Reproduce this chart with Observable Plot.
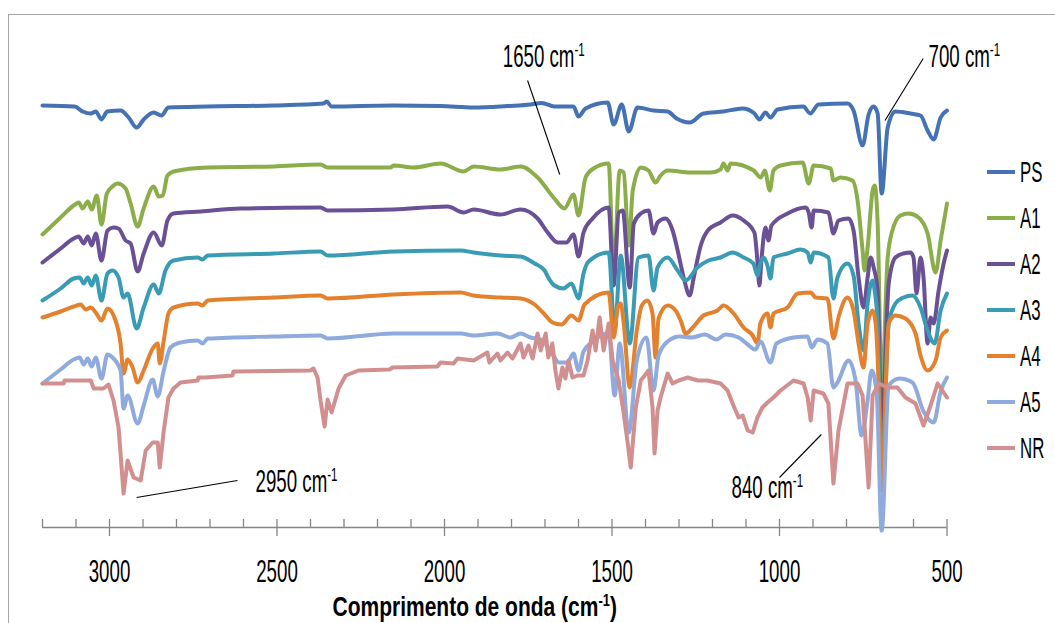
<!DOCTYPE html>
<html><head><meta charset="utf-8">
<script src="https://cdn.jsdelivr.net/npm/d3@7"></script>
<script src="https://cdn.jsdelivr.net/npm/@observablehq/plot@0.6"></script>
<style>
html,body{margin:0;padding:0;background:#fff;overflow:hidden;}
#wrap{position:relative;width:1055px;height:623px;font-family:"Liberation Sans",Arial,sans-serif;overflow:hidden;}
#frame{position:absolute;left:8px;top:14px;width:1200px;height:800px;border:1.5px solid #a6a6a6;box-sizing:border-box;}
#chart{position:absolute;left:0;top:0;}
.swatch{position:absolute;left:987px;width:28px;height:4px;}
.lbl{position:absolute;left:1020px;font-size:21px;line-height:20px;transform:scale(0.8,1.4);transform-origin:0 50%;color:#000;white-space:nowrap;}
</style></head>
<body><div id="wrap"><div id="frame"></div><div id="chart"></div><div id="legend"></div></div>
<script>
// Series names and colours
const seriesNames = ["PS","A1","A2","A3","A4","A5","NR"];
const seriesColors = ["#4472b4","#8bae4b","#6a5196","#3a9bb5","#e4812f","#8faadc","#d28f8f"];

// [wavenumber (cm-1), transmittance with offset (a.u.)]
const PS = [[3200,422],[3104,421],[3080,416],[3056,414],[3041,416],[3024,408],[3007,416],[2967,417],[2943,410],[2919,400],[2898,408],[2868,415],[2845,412],[2824,420],[2707,421],[2510,422],[2361,424],[2352,426],[2337,421],[2155,422],[2012,421.5],[1913,420],[1812,421.5],[1743,423],[1710,424.6],[1672,421],[1615,421],[1600,411],[1579,419],[1513,425],[1495,403],[1471,423],[1450,396],[1424,420],[1376,417],[1334,416],[1307,409],[1268,405],[1227,414],[1167,416],[1110,419],[1075,414],[1060,408],[1042,415],[1027,410],[1006,418],[929,421],[908,414],[884,423],[797,424],[779,417],[752,382],[734,413],[719,421],[707,414],[695,334],[677,400],[654,416],[609,414],[579,412],[558,397],[540,388],[519,410],[500,417]];
const A1 = [[3200,293],[3146,310],[3107,322],[3092,325],[3080,319],[3065,326],[3053,318],[3038,332],[3024,303],[3008,334],[2991,341],[2976,344],[2952,339],[2937,324],[2916,301],[2898,319],[2868,341],[2853,331],[2841,332],[2827,352],[2809,356],[2707,360],[2510,361],[2370,363],[2349,360],[2310,360],[2161,360],[2152,362],[2092,360],[2012,364],[1943,356],[1913,361],[1833,358],[1773,361],[1722,350],[1672,329],[1642,319],[1615,333],[1600,312],[1579,350],[1555,359],[1510,364],[1495,257],[1477,357],[1465,355],[1450,282],[1438,337],[1414,360],[1391,357],[1370,345],[1355,352],[1334,357],[1265,355],[1206,355],[1176,358],[1167,364],[1155,357],[1146,364],[1077,357],[1056,350],[1044,357],[1029,337],[1018,357],[997,362],[931,365],[913,344],[898,362],[847,359],[839,347],[818,350],[782,347],[767,327],[752,277],[746,257],[737,280],[722,337],[716,342],[707,304],[695,137],[677,270],[663,297],[639,312],[615,314],[585,310],[558,294],[534,255],[519,287],[500,324]];
const A2 = [[3200,265],[3146,279],[3107,289],[3092,291],[3077,284],[3065,291],[3053,282],[3041,294],[3024,267],[3006,297],[2988,300],[2973,299],[2952,287],[2937,284],[2916,256],[2898,274],[2868,295],[2844,282],[2827,307],[2809,314],[2728,316],[2609,319],[2370,320],[2349,317],[2152,318],[1991,321],[1943,315],[1913,318],[1833,313],[1773,318],[1722,309],[1692,295],[1662,285],[1636,285],[1615,293],[1600,271],[1585,295],[1558,309],[1510,320],[1495,242],[1480,315],[1468,317],[1447,240],[1435,304],[1414,314],[1391,317],[1376,294],[1364,305],[1340,309],[1319,297],[1304,277],[1286,250],[1268,232],[1256,250],[1235,282],[1214,297],[1176,305],[1140,312],[1107,307],[1075,295],[1066,267],[1060,242],[1054,267],[1042,300],[1033,287],[1024,302],[976,314],[922,320],[913,315],[904,300],[898,317],[854,315],[839,294],[824,307],[794,309],[779,297],[764,250],[749,220],[737,250],[728,270],[719,260],[707,237],[695,97],[674,244],[654,270],[630,274],[609,275],[600,270],[591,234],[579,270],[570,250],[558,184],[549,210],[540,204],[525,237],[510,264],[500,277]];
const A3 = [[3200,227],[3146,239],[3107,249],[3089,250],[3077,244],[3065,250],[3053,242],[3041,252],[3024,227],[3006,254],[2991,257],[2973,250],[2958,230],[2946,234],[2919,199],[2898,220],[2868,243],[2853,234],[2833,257],[2809,267],[2737,270],[2722,268],[2707,272],[2510,274],[2370,276],[2349,272],[2152,276],[1952,277],[1913,275],[1833,272],[1773,271],[1731,264],[1701,257],[1692,251],[1672,242],[1645,239],[1621,244],[1600,229],[1585,254],[1570,266],[1510,275],[1492,197],[1474,272],[1447,184],[1421,270],[1391,272],[1376,237],[1364,260],[1334,270],[1304,257],[1280,247],[1245,260],[1212,267],[1176,270],[1140,275],[1107,270],[1078,264],[1066,252],[1057,264],[1048,270],[1036,262],[1027,249],[1018,270],[976,274],[937,278],[916,275],[907,265],[898,275],[854,270],[839,229],[827,250],[797,264],[779,252],[764,204],[749,177],[737,224],[722,247],[716,237],[707,204],[695,57],[674,204],[654,224],[630,230],[603,232],[579,220],[558,197],[537,184],[519,217],[500,234]];
const A4 = [[3200,210],[3146,216],[3107,221],[3086,223],[3071,218],[3056,220],[3041,215],[3024,207],[3006,219],[2982,207],[2967,184],[2958,154],[2946,168],[2931,160],[2916,145],[2898,157],[2871,179],[2856,184],[2850,164],[2838,187],[2824,214],[2809,220],[2737,224],[2722,222],[2707,227],[2510,230],[2370,232],[2349,229],[2152,233],[1952,235],[1913,232],[1833,230],[1773,229],[1731,223],[1701,213],[1678,205],[1651,203],[1621,212],[1600,207],[1582,223],[1510,235],[1495,190],[1483,220],[1474,224],[1465,204],[1447,140],[1426,197],[1411,222],[1394,227],[1379,214],[1370,170],[1361,209],[1334,222],[1310,217],[1295,207],[1280,194],[1259,200],[1227,212],[1185,217],[1167,222],[1137,214],[1107,200],[1080,192],[1066,184],[1057,204],[1036,214],[1027,200],[1018,214],[976,220],[946,234],[907,235],[892,230],[857,229],[839,189],[824,210],[797,230],[779,217],[764,184],[749,160],[737,204],[722,217],[713,204],[707,170],[695,37],[674,204],[654,212],[624,209],[594,194],[579,172],[558,157],[534,167],[519,190],[500,197]];
const A5 = [[3200,144],[3146,158],[3107,168],[3089,170],[3077,163],[3065,169],[3053,161],[3041,170],[3024,149],[3006,173],[2991,170],[2967,157],[2958,119],[2946,132],[2916,104],[2898,122],[2871,148],[2856,131],[2838,157],[2818,180],[2788,185],[2737,187],[2722,184],[2707,189],[2510,191],[2370,192],[2349,189],[2152,194],[1952,194],[1913,192],[1842,194],[1803,190],[1773,194],[1743,190],[1713,188],[1675,172],[1660,165],[1633,165],[1615,174],[1600,157],[1585,176],[1558,186],[1510,194],[1492,132],[1477,184],[1450,95],[1426,167],[1397,190],[1376,137],[1361,172],[1334,186],[1298,191],[1262,190],[1223,193],[1188,188],[1161,193],[1122,190],[1095,183],[1072,178],[1057,186],[1027,165],[1009,184],[958,190],[916,191],[904,180],[886,188],[857,184],[839,140],[827,145],[794,167],[773,147],[755,92],[737,127],[725,157],[710,135],[695,-3],[674,142],[642,149],[603,145],[570,116],[540,105],[519,136],[500,150]];
const NR = [[3200,144],[3137,144],[3134,147],[3056,147],[3047,139],[3018,139],[3003,143],[2988,127],[2973,100],[2958,34],[2946,67],[2928,50],[2907,47],[2892,77],[2871,85],[2856,85],[2850,60],[2838,97],[2824,130],[2809,139],[2788,145],[2737,147],[2734,150],[2713,150],[2633,152],[2630,156],[2400,157],[2391,159],[2379,150],[2370,127],[2358,101],[2349,128],[2337,115],[2316,139],[2295,152],[2257,157],[2164,158],[2155,160],[2021,161],[2012,165],[1973,164],[1961,169],[1913,167],[1872,175],[1866,165],[1842,174],[1833,167],[1812,175],[1797,169],[1773,184],[1764,170],[1749,182],[1737,169],[1722,194],[1713,177],[1698,194],[1690,170],[1678,184],[1669,157],[1660,139],[1648,160],[1639,149],[1630,167],[1618,150],[1603,152],[1585,152],[1573,167],[1558,197],[1549,177],[1537,210],[1525,177],[1510,204],[1498,167],[1480,147],[1465,114],[1453,84],[1444,60],[1429,120],[1414,147],[1391,157],[1379,120],[1373,74],[1364,117],[1355,130],[1334,154],[1319,144],[1301,147],[1274,150],[1244,147],[1215,147],[1176,144],[1155,137],[1140,124],[1122,110],[1110,112],[1095,97],[1080,95],[1066,110],[1051,120],[1036,125],[1018,130],[997,137],[958,147],[928,144],[916,130],[907,107],[898,137],[869,134],[854,124],[839,44],[824,97],[797,144],[767,144],[752,132],[734,40],[722,132],[704,144],[677,140],[648,140],[624,130],[594,124],[570,102],[549,122],[528,144],[500,130]];
const seriesData = [PS, A1, A2, A3, A4, A5, NR];

// Axis ticks
const majorTicks = [3000, 2500, 2000, 1500, 1000, 500];
const minorTicks = [3200,3100,2900,2800,2700,2600,2400,2300,2200,2100,1900,1800,1700,1600,1400,1300,1200,1100,900,800,700,600];
const xTitle = "Comprimento de onda (cm⁻¹)";

// Peak annotations
const annotLabels = ["1650 cm⁻¹", "700 cm⁻¹", "2950 cm⁻¹", "840 cm⁻¹"];
const annotTextW = [1826, 555, 2564, 1143];
const annotTextV = [461, 461, 36, 30];
const annotFromW = [1752, 571, 2919, 1000];
const annotFromV = [447, 469, 30, 50];
const annotToW = [1656, 685, 2618, 875];
const annotToV = [353, 407, 47, 93];

const rows = [];
seriesNames.forEach((s, i) => seriesData[i].forEach(([w, v]) => rows.push({series: s, w, v})));
const smoothRows = rows.filter(d => d.series !== "NR");
const nrRows = rows.filter(d => d.series === "NR");
const annots = annotLabels.map((label, i) => ({label, tx: annotTextW[i], ty: annotTextV[i], x1: annotFromW[i], y1: annotFromV[i], x2: annotToW[i], y2: annotToV[i]}));

const chart = Plot.plot({
  width: 1055, height: 623,
  marginLeft: 42, marginRight: 108.5, marginTop: 15, marginBottom: 96,
  x: {domain: [3200, 500], axis: null},
  y: {domain: [0, 512], axis: null},
  color: {domain: seriesNames, range: seriesColors},
  style: {fontFamily: '"Liberation Sans", Arial, sans-serif', background: "transparent", overflow: "visible"},
  marks: [
    Plot.ruleY([0], {stroke: "#868686", strokeWidth: 1.3}),
    Plot.ruleX(minorTicks, {x: d => d, y1: 0, y2: 8, stroke: "#868686", strokeWidth: 1.3}),
    Plot.ruleX(majorTicks, {x: d => d, y1: -9, y2: 8, stroke: "#868686", strokeWidth: 1.3}),
    Plot.text(majorTicks, {x: d => d, y: -54, text: d => String(d), fontSize: 21, lineAnchor: "bottom", fill: "#000"}),
    Plot.line(smoothRows, {x: "w", y: "v", z: "series", stroke: "series", strokeWidth: 4, curve: "monotone-x", strokeLinejoin: "round", strokeLinecap: "round"}),
    Plot.line(nrRows, {x: "w", y: "v", z: "series", stroke: "series", strokeWidth: 4, strokeLinejoin: "round", strokeLinecap: "round"}),
    Plot.link(annots, {x1: "x1", y1: "y1", x2: "x2", y2: "y2", stroke: "#000", strokeWidth: 1.1}),
    Plot.text(annots, {x: "tx", y: "ty", text: "label", textAnchor: "start", lineAnchor: "bottom", fontSize: 21, fill: "#000"}),
    Plot.text([xTitle], {frameAnchor: "bottom", dx: -20, dy: 88, lineAnchor: "bottom", fontSize: 21, fontWeight: "bold", fill: "#000"})
  ]
});
document.getElementById("chart").appendChild(chart);

// superscripts for "cm⁻¹" and condensed, tall lettering
const NS = "http://www.w3.org/2000/svg";
Array.from(chart.getElementsByTagName("text")).forEach(t => {
  const s = t.textContent;
  const isTitle = s.indexOf("Comprimento") >= 0;
  const i = s.indexOf("⁻¹");
  if (i >= 0) {
    const before = s.slice(0, i), after = s.slice(i + 2);
    while (t.firstChild) t.removeChild(t.firstChild);
    const a = document.createElementNS(NS, "tspan"); a.textContent = before; t.appendChild(a);
    const b = document.createElementNS(NS, "tspan"); b.textContent = "-1"; b.setAttribute("dy", "-7"); b.setAttribute("font-size", "13"); t.appendChild(b);
    if (after) { const c = document.createElementNS(NS, "tspan"); c.textContent = after; c.setAttribute("dy", "7"); t.appendChild(c); }
  }
  const sx = isTitle ? 1.0 : 0.89, sy = isTitle ? 1.32 : 1.45;
  const tr = t.getAttribute("transform") || "";
  const xa = parseFloat(t.getAttribute("x")), ya = parseFloat(t.getAttribute("y"));
  const x = isFinite(xa) ? xa : 0, y = isFinite(ya) ? ya : 0;
  t.removeAttribute("x"); t.removeAttribute("y");
  t.setAttribute("transform", (tr + ` translate(${x},${y}) scale(${sx},${sy})`).trim());
});

// legend
const legendTop = [172, 218, 264, 310, 356, 402, 448];
const legend = document.getElementById("legend");
seriesNames.forEach((s, i) => {
  const sw = document.createElement("div");
  sw.className = "swatch"; sw.style.top = (legendTop[i] - 2) + "px"; sw.style.background = seriesColors[i];
  legend.appendChild(sw);
  const lb = document.createElement("div");
  lb.className = "lbl"; lb.style.top = (legendTop[i] - 10) + "px"; lb.textContent = s;
  legend.appendChild(lb);
});
</script>
</body></html>
